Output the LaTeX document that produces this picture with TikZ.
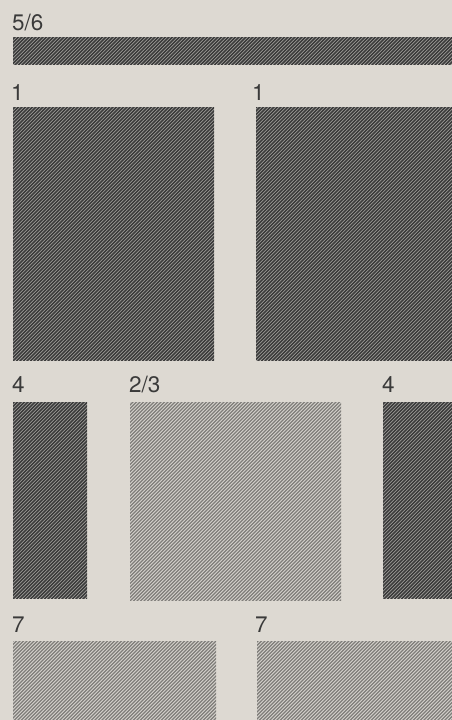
\documentclass[tikz,border=0pt]{standalone}
\usepackage{fontspec}
\setmainfont{TeX Gyre Heros}
\definecolor{paper}{HTML}{DDD9D2}
\definecolor{darkbase}{HTML}{A8A7A3}
\definecolor{darkline}{HTML}{3C3C3C}
\definecolor{lightbase}{HTML}{D6D3CD}
\definecolor{lightline}{HTML}{7E7C79}
\definecolor{labelc}{HTML}{3A3A3A}
\tikzset{
  lbl/.style={anchor=base west, inner sep=0pt, font=\fontsize{22.5}{22.5}\selectfont, text=labelc},
  darkhatch/.style={line width=1.45pt, draw=darkline},
  lighthatch/.style={line width=1.2pt, draw=lightline},
}
% #1 x1, #2 y1, #3 x2, #4 y2, #5 base colour, #6 hatch style
\newcommand{\hatchrect}[6]{%
  \begin{scope}
    \clip (#1,#2) rectangle (#3,#4);
    \fill[#5] (#1,#2) rectangle (#3,#4);
    \foreach \s in {-800,-796.5,...,460} {
      \draw[#6] (\s,740) -- ++(760,-760);
    }
  \end{scope}}
\begin{document}
\begin{tikzpicture}[x=1pt,y=-1pt]
\useasboundingbox (0,0) rectangle (452,720);
\fill[paper] (0,0) rectangle (452,720);
% row 0
\hatchrect{13}{37}{452}{64}{darkbase}{darkhatch}
\node[lbl] (l56) at (12,30) {5/6};
% row 1
\hatchrect{13}{107}{214}{360}{darkbase}{darkhatch}
\hatchrect{256}{107}{452}{360}{darkbase}{darkhatch}
\node[lbl] (l1a) at (11,100) {1};
\node[lbl] (l1b) at (252,100) {1};
% row 2
\hatchrect{13}{402}{87}{598}{darkbase}{darkhatch}
\hatchrect{130}{402}{341}{600}{lightbase}{lighthatch}
\hatchrect{383}{402}{452}{598}{darkbase}{darkhatch}
\node[lbl] (l4a) at (12,392) {4};
\node[lbl] (l23) at (129,392) {2/3};
\node[lbl] (l4b) at (382,392) {4};
% row 3
\hatchrect{13}{641}{216}{720}{lightbase}{lighthatch}
\hatchrect{257}{641}{452}{720}{lightbase}{lighthatch}
\node[lbl] (l7a) at (12,632) {7};
\node[lbl] (l7b) at (255,632) {7};
\end{tikzpicture}
\end{document}
